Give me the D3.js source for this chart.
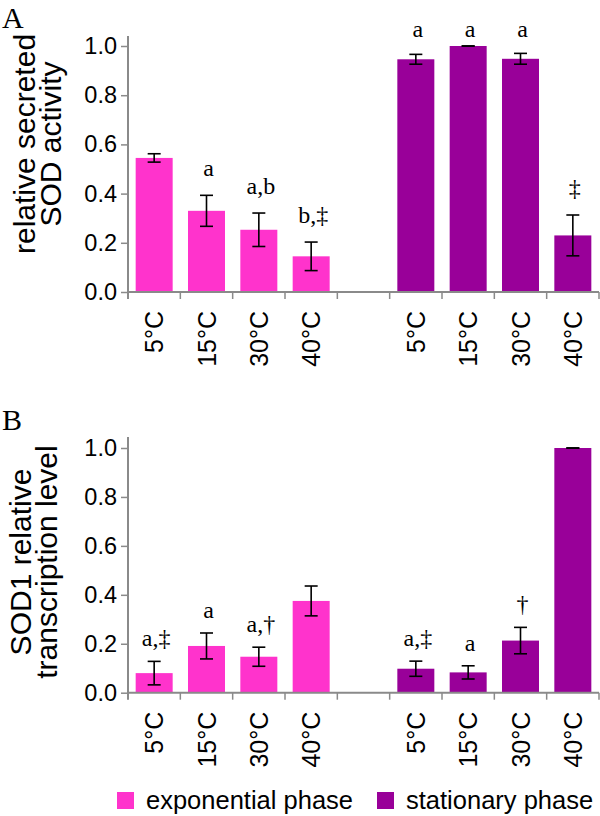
<!DOCTYPE html>
<html><head><meta charset="utf-8">
<script src="https://cdn.jsdelivr.net/npm/d3@7"></script>
<style>body{margin:0;background:#fff}svg{display:block}</style>
</head><body>
<svg id="c" width="600" height="816"></svg>
<script>
// ---- data ----
const temps = ["5°C", "15°C", "30°C", "40°C"];
const phases = ["exponential phase", "stationary phase"];
const yTicks = [0, 0.2, 0.4, 0.6, 0.8, 1.0];

// Panel A: relative secreted SOD activity
const secretedExp = [0.545, 0.330, 0.253, 0.145];
const secretedExpErr = [0.017, 0.063, 0.068, 0.058];
const secretedStat = [0.946, 1.000, 0.948, 0.230];
const secretedStatErr = [0.020, 0.000, 0.022, 0.083];
const secretedExpLabels = ["", "a", "a,b", "b,‡"];
const secretedStatLabels = ["a", "a", "a", "‡"];

// Panel B: SOD1 relative transcription level
const transExp = [0.080, 0.191, 0.147, 0.375];
const transExpErr = [0.048, 0.053, 0.039, 0.061];
const transStat = [0.098, 0.083, 0.213, 1.000];
const transStatErr = [0.031, 0.027, 0.054, 0.000];
const transExpLabels = ["a,‡", "a", "a,†", ""];
const transStatLabels = ["a,‡", "a", "†", ""];

// ---- style ----
const colors = ["#ff33cc", "#990099"];
const axisColor = "#8a8a8a";
const sans = "'Liberation Sans', Arial, Helvetica, sans-serif";
const serif = "'Liberation Serif', 'Times New Roman', serif";

const svg = d3.select("#c");

// category slots: 4 exponential, one gap, 4 stationary
const slots = [];
temps.forEach(t => slots.push("exp|" + t));
slots.push("gap");
temps.forEach(t => slots.push("stat|" + t));

const x = d3.scaleBand().domain(slots).range([128, 599]).paddingInner(0.293).paddingOuter(0.1465);

function panel(cfg) {
  const g = svg.append("g");
  const y = d3.scaleLinear().domain([0, 1]).range([cfg.y0, cfg.y1]);

  // panel letter
  g.append("text").attr("x", 2).attr("y", cfg.letterY).text(cfg.letter)
    .style("font-family", serif).style("font-size", "30px").attr("fill", "#000");

  // y title
  const tt = g.append("text")
    .attr("transform", `translate(0,${cfg.titleCY}) rotate(-90)`)
    .style("font-family", sans).style("font-size", "30px").attr("text-anchor", "middle").attr("fill", "#000");
  tt.append("tspan").attr("x", 0).attr("y", cfg.titleX1).text(cfg.title[0]);
  tt.append("tspan").attr("x", 0).attr("y", cfg.titleX2).text(cfg.title[1]);

  // bars
  const rows = [];
  const series = [[cfg.exp, cfg.expErr, cfg.expLab, "exp"], [cfg.stat, cfg.statErr, cfg.statLab, "stat"]];
  series.forEach(([vals, errs, labs, key], si) => {
    vals.forEach((v, i) => rows.push({ key: key + "|" + temps[i], v, e: errs[i], lab: labs[i], si }));
  });

  g.selectAll("rect.bar").data(rows).enter().append("rect")
    .attr("x", d => x(d.key)).attr("width", x.bandwidth())
    .attr("y", d => y(d.v)).attr("height", d => y(0) - y(d.v))
    .attr("fill", d => colors[d.si]);

  // error bars
  const cap = 6.5;
  const eg = g.selectAll("g.err").data(rows).enter().append("g")
    .attr("stroke", "#000").attr("stroke-width", 1.6);
  eg.append("line")
    .attr("x1", d => x(d.key) + x.bandwidth() / 2).attr("x2", d => x(d.key) + x.bandwidth() / 2)
    .attr("y1", d => y(d.v - d.e)).attr("y2", d => y(d.v + d.e));
  eg.append("line")
    .attr("x1", d => x(d.key) + x.bandwidth() / 2 - cap).attr("x2", d => x(d.key) + x.bandwidth() / 2 + cap)
    .attr("y1", d => y(d.v + d.e)).attr("y2", d => y(d.v + d.e));
  eg.append("line")
    .attr("x1", d => x(d.key) + x.bandwidth() / 2 - cap).attr("x2", d => x(d.key) + x.bandwidth() / 2 + cap)
    .attr("y1", d => y(d.v - d.e)).attr("y2", d => y(d.v - d.e));

  // significance labels
  g.selectAll("text.sig").data(rows.filter(d => d.lab)).enter().append("text")
    .attr("x", d => x(d.key) + x.bandwidth() / 2 + 2)
    .attr("y", d => Math.max(y(d.v + d.e) - cfg.gap, y(1) - 9))
    .attr("text-anchor", "middle")
    .style("font-family", serif).style("font-size", "24px").attr("fill", "#000")
    .text(d => d.lab);

  // y axis
  const ya = g.append("g").attr("transform", "translate(128,0)")
    .call(d3.axisLeft(y).tickValues(yTicks).tickFormat(d3.format(".1f")).tickSize(7).tickPadding(4));
  ya.select(".domain").remove();
  ya.selectAll("line").attr("stroke", axisColor).attr("stroke-width", 1.5);
  ya.selectAll("text").style("font-family", sans).style("font-size", "23.5px").attr("fill", "#000");
  g.append("line").attr("x1", 128).attr("x2", 128).attr("y1", cfg.yTop).attr("y2", y(0) + 7)
    .attr("stroke", axisColor).attr("stroke-width", 2);

  // x axis
  g.append("line").attr("x1", 128).attr("x2", 599).attr("y1", y(0)).attr("y2", y(0))
    .attr("stroke", axisColor).attr("stroke-width", 2);
  const bounds = d3.range(slots.length + 1).map(i => x.range()[0] + i * x.step());
  g.selectAll("line.xt").data(bounds.slice(1)).enter().append("line")
    .attr("x1", d => d).attr("x2", d => d).attr("y1", y(0)).attr("y2", y(0) + 7)
    .attr("stroke", axisColor).attr("stroke-width", 1.5);

  // x tick labels
  g.selectAll("text.xl").data(slots.filter(s => s !== "gap")).enter().append("text")
    .attr("transform", d => `translate(${x(d) + x.bandwidth() / 2},${y(0) + 19}) rotate(-90)`)
    .attr("dy", "0.36em").attr("text-anchor", "end")
    .style("font-family", sans).style("font-size", "25px").attr("fill", "#000")
    .text(d => d.split("|")[1]);
}

panel({
  letter: "A", letterY: 28, y0: 292, y1: 46, yTop: 36,
  title: ["relative secreted", "SOD activity"], titleCY: 144, titleX1: 35, titleX2: 61,
  exp: secretedExp, expErr: secretedExpErr, expLab: secretedExpLabels,
  stat: secretedStat, statErr: secretedStatErr, statLab: secretedStatLabels, gap: 19
});
panel({
  letter: "B", letterY: 430, y0: 692.7, y1: 448, yTop: 437,
  title: ["SOD1 relative", "transcription level"], titleCY: 562, titleX1: 31, titleX2: 57,
  exp: transExp, expErr: transExpErr, expLab: transExpLabels,
  stat: transStat, statErr: transStatErr, statLab: transStatLabels, gap: 15
});

// legend
const leg = svg.append("g");
const legX = [117, 377];
phases.forEach((p, i) => {
  leg.append("rect").attr("x", legX[i]).attr("y", 792).attr("width", 17).attr("height", 17).attr("fill", colors[i]);
  leg.append("text").attr("x", legX[i] + 29).attr("y", 809).text(p)
    .style("font-family", sans).style("font-size", "25.5px").attr("fill", "#000");
});
</script>
</body></html>
